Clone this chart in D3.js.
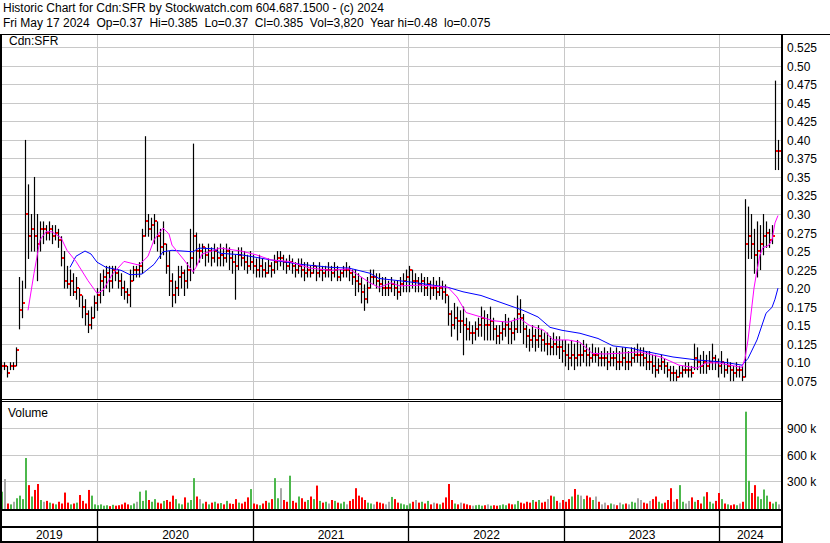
<!DOCTYPE html>
<html><head><meta charset="utf-8">
<script src="https://cdn.jsdelivr.net/npm/d3@7"></script>
<style>body{margin:0;background:#fff}svg{display:block;font-family:"Liberation Sans",Arial,sans-serif}</style>
</head><body><svg width="830" height="543"></svg>
<script>
// ---- data (one entry per ~weekly period) ----
const periodHigh = [
.10,.10,.095,.10,.10,.12,.215,.21,.40,.34,
.30,.35,.30,.29,.29,.285,.29,.285,.285,.28,
.27,.25,.23,.225,.22,.215,.20,.19,.185,.17,
.175,.19,.20,.22,.225,.23,.23,.23,.23,.225,
.22,.21,.20,.225,.23,.23,.235,.28,.405,.30,
.295,.30,.29,.28,.29,.26,.25,.22,.21,.23,
.23,.225,.235,.28,.395,.275,.26,.26,.255,.26,
.255,.26,.255,.26,.255,.26,.255,.25,.245,.255,
.255,.25,.245,.25,.245,.24,.245,.24,.235,.24,
.235,.245,.25,.25,.245,.24,.245,.24,.235,.24,
.24,.235,.235,.23,.235,.23,.235,.23,.23,.235,
.23,.235,.23,.225,.23,.235,.23,.225,.225,.22,
.215,.205,.215,.225,.225,.22,.22,.215,.215,.21,
.215,.21,.21,.215,.22,.225,.23,.225,.22,.215,
.22,.215,.215,.21,.215,.21,.215,.21,.205,.19,
.17,.18,.175,.17,.175,.16,.155,.15,.155,.16,
.175,.17,.165,.175,.16,.15,.15,.155,.165,.16,
.155,.16,.19,.185,.165,.15,.145,.15,.145,.15,
.145,.14,.14,.135,.14,.135,.135,.13,.13,.125,
.13,.125,.13,.125,.13,.125,.12,.125,.12,.12,
.115,.12,.115,.12,.115,.12,.115,.12,.12,.115,
.12,.12,.125,.12,.12,.115,.115,.11,.11,.105,
.11,.105,.10,.095,.095,.09,.095,.095,.10,.10,
.095,.125,.12,.11,.115,.11,.115,.125,.11,.105,
.115,.10,.105,.10,.095,.10,.095,.095,.32,.31,
.30,.28,.29,.285,.30,.29,.28,.285,.48,.40];
const periodLow = [
.085,.09,.08,.09,.09,.095,.145,.16,.20,.24,
.25,.25,.21,.25,.26,.265,.265,.26,.265,.255,
.23,.20,.20,.19,.19,.185,.175,.16,.15,.14,
.145,.16,.17,.18,.19,.20,.195,.20,.21,.20,
.19,.185,.18,.175,.21,.215,.215,.22,.27,.27,
.265,.26,.25,.24,.245,.22,.19,.175,.18,.19,
.20,.19,.20,.21,.22,.23,.235,.24,.23,.235,
.23,.235,.23,.23,.23,.235,.225,.22,.185,.225,
.23,.225,.22,.225,.22,.215,.215,.215,.215,.22,
.215,.22,.225,.23,.225,.22,.225,.22,.215,.22,
.215,.21,.215,.215,.22,.21,.215,.21,.215,.215,
.21,.215,.21,.21,.215,.215,.21,.205,.19,.195,
.18,.17,.18,.20,.205,.20,.195,.19,.19,.19,
.195,.19,.185,.19,.195,.195,.195,.20,.195,.195,
.195,.19,.19,.185,.19,.185,.19,.185,.18,.15,
.135,.145,.13,.14,.11,.13,.13,.125,.13,.135,
.135,.13,.13,.13,.13,.125,.125,.13,.135,.125,
.125,.13,.14,.14,.125,.12,.115,.12,.115,.12,
.115,.115,.11,.11,.11,.11,.105,.10,.095,.09,
.095,.09,.095,.095,.10,.095,.095,.10,.10,.095,
.095,.095,.09,.095,.095,.09,.09,.095,.09,.09,
.095,.10,.10,.095,.095,.09,.09,.085,.08,.085,
.09,.085,.08,.075,.075,.075,.08,.08,.085,.08,
.08,.09,.09,.085,.085,.085,.09,.09,.09,.08,
.085,.08,.085,.075,.075,.08,.08,.075,.08,.24,
.24,.22,.215,.225,.245,.255,.255,.26,.36,.36];
const periodClose = [
.095,.095,.085,.095,.095,.117,.17,.18,.30,.27,
.28,.27,.26,.28,.28,.275,.28,.27,.275,.265,
.24,.21,.205,.21,.195,.20,.19,.175,.165,.15,
.16,.18,.19,.21,.215,.22,.21,.225,.22,.21,
.20,.195,.19,.21,.225,.225,.23,.27,.29,.28,
.285,.29,.27,.255,.26,.23,.21,.19,.20,.215,
.22,.21,.225,.24,.27,.25,.25,.255,.245,.25,
.24,.25,.24,.245,.24,.25,.24,.235,.23,.245,
.24,.235,.23,.235,.23,.225,.23,.225,.22,.23,
.225,.235,.24,.24,.235,.23,.235,.23,.225,.23,
.225,.22,.225,.22,.23,.22,.225,.22,.225,.225,
.22,.225,.215,.22,.225,.225,.22,.215,.21,.205,
.195,.185,.20,.215,.215,.21,.205,.20,.20,.20,
.205,.20,.195,.205,.21,.215,.225,.21,.21,.205,
.21,.20,.205,.20,.20,.195,.20,.195,.19,.165,
.15,.16,.155,.155,.15,.145,.14,.14,.145,.15,
.16,.15,.15,.155,.145,.135,.14,.145,.15,.145,
.14,.145,.165,.16,.145,.135,.13,.135,.13,.135,
.13,.125,.125,.12,.125,.12,.12,.115,.11,.105,
.11,.105,.11,.11,.115,.11,.105,.11,.11,.105,
.105,.105,.10,.105,.105,.10,.10,.105,.10,.10,
.105,.11,.11,.11,.105,.10,.10,.095,.09,.095,
.10,.095,.09,.085,.085,.08,.085,.09,.09,.09,
.085,.105,.10,.095,.10,.095,.10,.105,.10,.095,
.10,.09,.095,.09,.085,.09,.09,.08,.26,.27,
.26,.245,.25,.26,.27,.275,.265,.27,.385,.385];
const periodVolumeK = [
175,320,40,30,60,100,130,90,560,250,
120,195,263,80,60,70,50,40,30,60,
40,165,50,30,40,50,137,70,40,195,
130,30,20,30,15,20,10,25,15,20,
30,50,30,20,40,60,175,70,190,80,
60,90,50,40,70,80,60,130,90,40,
30,110,50,80,330,120,90,40,60,30,
50,60,40,45,30,70,40,35,90,50,
40,60,110,205,40,30,20,40,70,50,
90,330,100,215,80,60,358,70,50,120,
100,60,80,120,90,245,70,50,60,40,
80,70,50,40,60,30,70,90,215,130,
110,80,50,40,30,60,50,40,30,60,
115,90,50,40,30,20,40,60,80,50,
60,40,70,30,50,40,30,50,110,263,
80,40,30,50,40,30,20,15,20,25,
15,20,30,15,20,15,20,30,20,40,
30,30,70,50,40,60,50,80,60,80,
50,60,90,130,120,70,50,80,60,90,
120,206,140,130,90,130,110,80,120,60,
30,50,20,40,30,20,50,30,40,30,
60,50,100,80,50,40,70,90,120,60,
40,50,80,215,60,90,250,60,40,70,
110,60,80,40,120,170,60,40,70,160,
90,40,30,20,30,20,40,60,1090,300,
160,250,120,90,200,130,60,40,60,30];
// moving averages (period index, value)
const maShortIdx = [9,11,13,15,17,20,22,25,29,32,34,37,41,43,46,49,51,54,56,57,61,64,65,67,71,73,80,85,90,96,103,110,116,123,126,130,133,140,149,152,155,160,164,169,173,176,181,184,189,193,197,201,206,213,220,226,232,235,239,243,247,248,249,250,251,252,253,254,255,256,257,258,259];
const maShortVal = [.170,.22,.265,.276,.276,.268,.251,.236,.21,.193,.197,.218,.236,.234,.231,.243,.265,.281,.273,.258,.238,.222,.228,.246,.251,.254,.25,.245,.238,.236,.227,.224,.226,.207,.201,.207,.203,.204,.201,.188,.167,.161,.156,.154,.159,.15,.143,.13,.13,.127,.112,.111,.112,.114,.107,.096,.092,.099,.099,.096,.093,.105,.13,.165,.20,.224,.245,.255,.256,.258,.265,.288,.298];
const maLongIdx = [23,25,28,30,32,35,40,43,47,51,54,57,64,66,71,73,80,90,100,110,116,123,126,137,149,154,160,167,174,179,183,187,193,199,204,210,213,224,232,241,247,249,252,255,257,258,259];
const maLongVal = [.228,.243,.25,.246,.235,.228,.224,.218,.219,.232,.249,.251,.249,.254,.253,.247,.245,.238,.232,.228,.227,.22,.213,.208,.201,.195,.19,.18,.17,.161,.147,.143,.139,.132,.122,.119,.116,.107,.103,.10,.096,.105,.13,.166,.174,.185,.20];
const priceTicks = [0.075,0.10,0.125,0.15,0.175,0.20,0.225,0.25,0.275,0.30,0.325,0.35,0.375,0.40,0.425,0.45,0.475,0.50,0.525];
const priceTickLabels = ["0.075","0.10","0.125","0.15","0.175","0.20","0.225","0.25","0.275","0.30","0.325","0.35","0.375","0.40","0.425","0.45","0.475","0.50","0.525"];
const volumeTicksK = [300,600,900];
const volumeTickLabels = ["300 k","600 k","900 k"];
const yearLabels = ["2019","2020","2021","2022","2023","2024"];
const yearStarts = ["2020-01-01","2021-01-01","2022-01-01","2023-01-01","2024-01-01"];
const firstDate = "2019-05-17", lastDate = "2024-05-17";
const headerLine1 = "Historic Chart for Cdn:SFR by Stockwatch.com 604.687.1500 - (c) 2024";
const headerLine2 = "Fri May 17 2024  Op=0.37  Hi=0.385  Lo=0.37  Cl=0.385  Vol=3,820  Year hi=0.48  lo=0.075";

// ---- drawing ----
const svg = d3.select("svg");
const parse = d3.timeParse("%Y-%m-%d");
const n = periodClose.length;
const x = d3.scaleLinear().domain([0, n - 1]).range([1, 778]);
const xt = d3.scaleTime().domain([parse(firstDate), parse(lastDate)]).range([0, 778]);
const y = d3.scaleLinear().domain([0.075, 0.525]).range([380.7, 47.3]);
const yv = d3.scaleLinear().domain([0, 900]).range([507, 428.3]);
const GRID = "#c8c8c8";
const boundaries = yearStarts.map(s => Math.floor(xt(parse(s))) + 0.5);

svg.append("rect").attr("width", 830).attr("height", 543).attr("fill", "#fff");

// header
svg.append("text").attr("x", 3).attr("y", 12).attr("font-size", 12).text(headerLine1);
svg.append("text").attr("x", 3).attr("y", 27).attr("font-size", 12).attr("xml:space", "preserve").style("white-space", "pre").text(headerLine2);

// grids - price
const g = svg.append("g");
g.selectAll(".hp").data(priceTicks).enter().append("line")
  .attr("x1", 2).attr("x2", 781).attr("y1", d => Math.round(y(d)) + 0.5).attr("y2", d => Math.round(y(d)) + 0.5)
  .attr("stroke", GRID).attr("stroke-width", 1);
g.selectAll(".vp").data(boundaries).enter().append("line")
  .attr("x1", d => d).attr("x2", d => d).attr("y1", 35).attr("y2", 399).attr("stroke", GRID);
// grids - volume
g.selectAll(".hv").data(volumeTicksK).enter().append("line")
  .attr("x1", 2).attr("x2", 781).attr("y1", d => Math.round(yv(d)) + 0.5).attr("y2", d => Math.round(yv(d)) + 0.5)
  .attr("stroke", GRID);
g.selectAll(".vv").data(boundaries).enter().append("line")
  .attr("x1", d => d).attr("x2", d => d).attr("y1", 403).attr("y2", 509).attr("stroke", GRID);

// clip
const defs = svg.append("defs");
defs.append("clipPath").attr("id", "cp").append("rect").attr("x", 2).attr("y", 35).attr("width", 779).attr("height", 363);
defs.append("clipPath").attr("id", "cv").append("rect").attr("x", 2).attr("y", 403).attr("width", 779).attr("height", 106);

const periods = d3.range(n).map(i => ({i, h: periodHigh[i], l: periodLow[i], c: periodClose[i], v: periodVolumeK[i]}));

// price bars
const pg = svg.append("g").attr("clip-path", "url(#cp)");
pg.selectAll(".bar").data(periods).enter().append("line")
  .attr("x1", d => Math.round(x(d.i)) + 0.5).attr("x2", d => Math.round(x(d.i)) + 0.5)
  .attr("y1", d => y(d.h)).attr("y2", d => y(d.l) + 0.5)
  .attr("stroke", "#000").attr("stroke-width", 1.2);
pg.selectAll(".cl").data(periods).enter().append("rect")
  .attr("x", d => Math.round(x(d.i)) + 1).attr("y", d => Math.round(y(d.c)) - 1)
  .attr("width", 2).attr("height", 2).attr("fill", "#ff0000");
// moving averages
const line = d3.line().x(d => x(d[0])).y(d => y(d[1]));
pg.append("path").attr("d", line(d3.zip(maLongIdx, maLongVal))).attr("fill", "none").attr("stroke", "#0000ff").attr("stroke-width", 1);
pg.append("path").attr("d", line(d3.zip(maShortIdx, maShortVal))).attr("fill", "none").attr("stroke", "#ff00ff").attr("stroke-width", 1);

// volume bars
const vg = svg.append("g").attr("clip-path", "url(#cv)");
vg.selectAll(".vb").data(periods).enter().append("rect")
  .attr("x", d => Math.round(x(d.i)))
  .attr("y", d => yv(d.v)).attr("width", 2).attr("height", d => yv(0) - yv(d.v) + 2)
  .attr("fill", d => {
    if (d.i === 0) return "#4cb84c";
    const p = periods[d.i - 1].c;
    return d.c > p ? "#4cb84c" : d.c < p ? "#ff0000" : "#a8a8a8";
  });

// labels inside panels
svg.append("text").attr("x", 9).attr("y", 45).attr("font-size", 12).text("Cdn:SFR");
svg.append("text").attr("x", 8).attr("y", 417).attr("font-size", 12).text("Volume");

// right axis labels
svg.selectAll(".pl").data(priceTicks).enter().append("text")
  .attr("x", 787).attr("y", d => Math.round(y(d)) + 4.5).attr("font-size", 12).attr("fill", "#000")
  .text((d, i) => priceTickLabels[i]);
svg.selectAll(".vl").data(volumeTicksK).enter().append("text")
  .attr("x", 787).attr("y", d => Math.round(yv(d)) + 4.5).attr("font-size", 12).attr("fill", "#000")
  .text((d, i) => volumeTickLabels[i]);

// frame lines
const K = "#000";
svg.append("rect").attr("x", 0).attr("y", 34).attr("width", 830).attr("height", 1).attr("fill", K);
svg.append("rect").attr("x", 0).attr("y", 34).attr("width", 2).attr("height", 509).attr("fill", K);
svg.append("rect").attr("x", 781).attr("y", 34).attr("width", 2).attr("height", 509).attr("fill", K);
svg.append("rect").attr("x", 0).attr("y", 399).attr("width", 781).attr("height", 1).attr("fill", K);
svg.append("rect").attr("x", 0).attr("y", 401).attr("width", 781).attr("height", 1).attr("fill", K);
svg.append("rect").attr("x", 0).attr("y", 509).attr("width", 781).attr("height", 2).attr("fill", K);
svg.append("rect").attr("x", 0).attr("y", 526).attr("width", 781).attr("height", 2).attr("fill", K);
svg.append("rect").attr("x", 0).attr("y", 541).attr("width", 781).attr("height", 2).attr("fill", K);
svg.selectAll(".sep").data(boundaries).enter().append("line")
  .attr("x1", d => d).attr("x2", d => d).attr("y1", 511).attr("y2", 541).attr("stroke", K).attr("stroke-width", 1.3);

// year labels
const edges = [1, ...boundaries, 781];
svg.selectAll(".yl").data(yearLabels).enter().append("text")
  .attr("x", (d, i) => (edges[i] + edges[i + 1]) / 2).attr("y", 539).attr("text-anchor", "middle")
  .attr("font-size", 12).text(d => d);
</script></body></html>
